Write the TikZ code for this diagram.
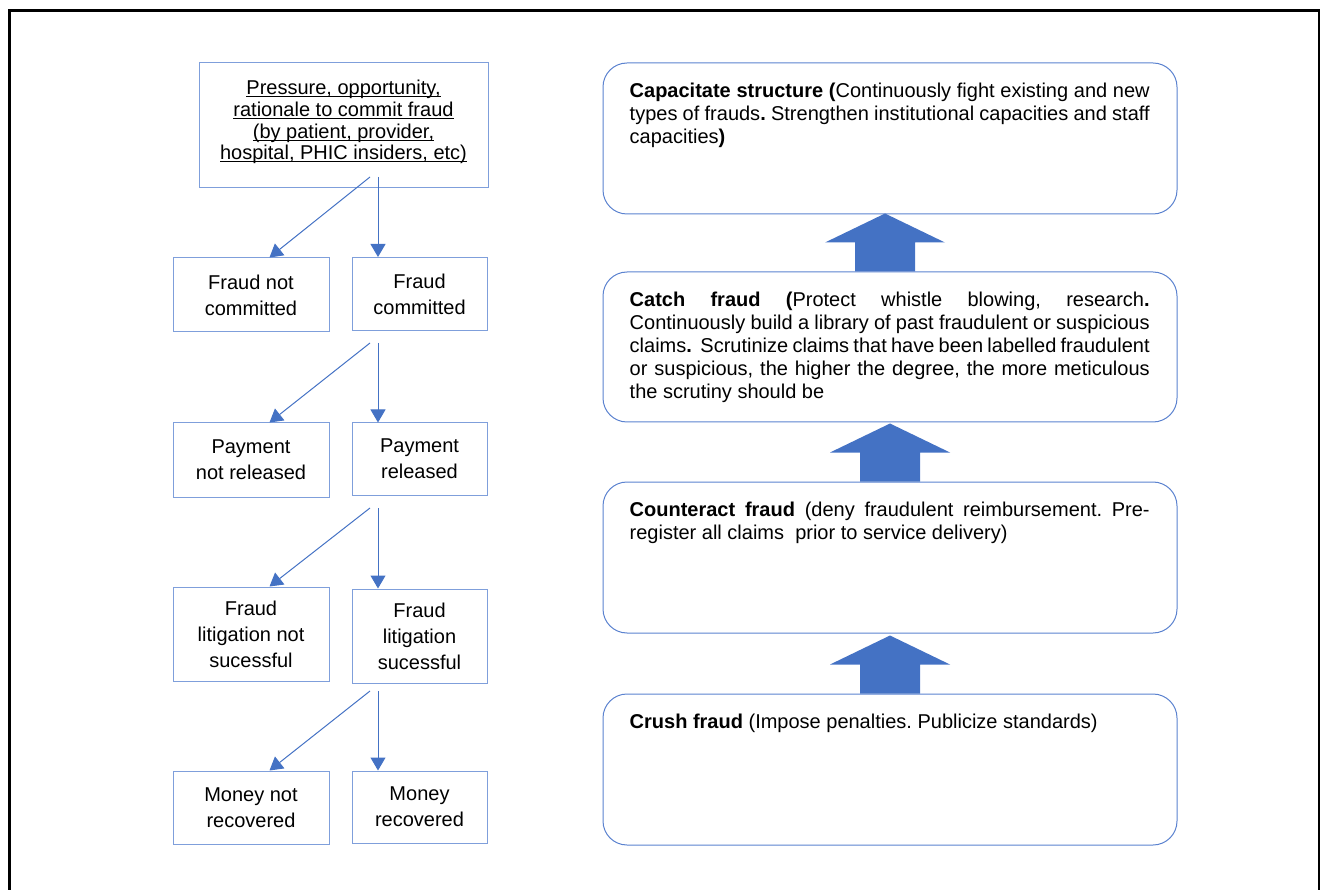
\documentclass[tikz,border=0pt]{standalone}
\usepackage{fontspec}
\setmainfont{Liberation Sans}
\usetikzlibrary{arrows.meta,calc}
\definecolor{boxblue}{HTML}{7F9FDB}
\definecolor{rblue}{HTML}{5B82CF}
\definecolor{arrowblue}{HTML}{4472C4}
\newcommand{\myul}[1]{\setbox0\hbox{#1}\rlap{\rule[-2.6pt]{\wd0}{1pt}}\box0}
\frenchspacing
\begin{document}
\begin{tikzpicture}[x=1pt,y=-1pt,
  lbox/.style={draw=boxblue, line width=1pt, inner sep=0pt, align=center,
    font=\fontsize{20}{26}\selectfont},
  rbox/.style={draw=rblue, line width=1pt, rounded corners=24pt, inner sep=0pt,
    minimum width=574pt},
  rtext/.style={anchor=north west, inner sep=0pt, text width=520pt, align=justify,
    font=\fontsize{20}{23}\selectfont\frenchspacing},
  arr/.style={draw=arrowblue, line width=1pt, -{Triangle[length=13pt,width=15pt]}},
  bigarrow/.style={fill=arrowblue}]
\useasboundingbox (0,0) rectangle (1320,890);
\draw[line width=3pt] (9,895) -- (9,10.5) -- (1319,10.5) -- (1319,895);

% left column
\node[lbox, minimum width=289pt, minimum height=125pt] (top) at (343.5,125.5) {};
\node[inner sep=0pt, align=center, font=\fontsize{20}{21.8}\selectfont] (toptext) at (343.5,122)
  {\myul{Pressure, opportunity,}\\\myul{rationale to commit fraud}\\\myul{(by patient, provider,}\\\myul{hospital, PHIC insiders, etc)}};
\node[lbox, minimum width=156pt, minimum height=74pt] (fnc) at (251,295) {Fraud not\\committed};
\node[lbox, minimum width=135pt, minimum height=73pt] (fc) at (419.5,294) {Fraud\\committed};
\node[lbox, minimum width=156pt, minimum height=74pt] (pnr) at (251,460) {Payment\\not released};
\node[lbox, minimum width=135pt, minimum height=72pt] (pr) at (419.5,459) {Payment\\released};
\node[lbox, minimum width=156pt, minimum height=94pt] (flns) at (251,634) {Fraud\\litigation not\\sucessful};
\node[lbox, minimum width=135pt, minimum height=94pt] (fls) at (419.5,636) {Fraud\\litigation\\sucessful};
\node[lbox, minimum width=156pt, minimum height=73pt] (mnr) at (251,807.5) {Money not\\recovered};
\node[lbox, minimum width=135pt, minimum height=72pt] (mr) at (419.5,807) {Money\\recovered};

\coordinate (s0d) at (370,177); \coordinate (s0v) at (378,177);
\coordinate (s1d) at (370,343); \coordinate (s1v) at (378,343);
\coordinate (s2d) at (370,508); \coordinate (s2v) at (378,508);
\coordinate (s3d) at (370,691); \coordinate (s3v) at (378,691);

\draw[arr] (s0d) -- ($(fnc.north west)+(97,0)$);
\draw[arr] (s0v) -- (s0v |- fc.north);
\draw[arr] (s1d) -- ($(pnr.north west)+(97,0)$);
\draw[arr] (s1v) -- (s1v |- pr.north);
\draw[arr] (s2d) -- ($(flns.north west)+(97,0)$);
\draw[arr] (s2v) -- (s2v |- fls.north);
\draw[arr] (s3d) -- ($(mnr.north west)+(97,0)$);
\draw[arr] (s3v) -- (s3v |- mr.north);

% right column
\node[rbox, minimum height=151pt] (cap) at (890,138.5) {};
\node[rbox, minimum height=150pt] (catch) at (890,347) {};
\node[rbox, minimum height=151pt] (counter) at (890,557.5) {};
\node[rbox, minimum height=151pt] (crush) at (890,769.5) {};

\node[rtext] (captext) at ($(cap.north west)+(27,20)$)
  {\textbf{Capacitate structure (}Continuously fight existing and new\linebreak types of frauds\textbf{.} Strengthen institutional capacities and staff\linebreak capacities\textbf{)}};
\node[rtext] (catchtext) at ($(catch.north west)+(27,20)$)
  {\textbf{Catch fraud (}Protect whistle blowing, research\textbf{.}\linebreak Continuously build a library of past fraudulent or suspicious\linebreak claims\textbf{.}\ \ Scrutinize claims that have been labelled fraudulent\linebreak or suspicious, the higher the degree, the more meticulous\linebreak the scrutiny should be};
\node[rtext] (countertext) at ($(counter.north west)+(27,20)$)
  {\textbf{Counteract fraud} (deny fraudulent reimbursement. Pre-\linebreak register all claims\ \ prior to service delivery)};
\node[rtext] (crushtext) at ($(crush.north west)+(27,20)$)
  {\textbf{Crush fraud} (Impose penalties. Publicize standards)};

\fill[bigarrow] ($(catch.north)+(-35,0)$) -- ++(0,-29) -- ++(-30,0) -- ++(60,-29) -- ++(60,29) -- ++(-30,0) -- ++(0,29) -- cycle;
\fill[bigarrow] ($(counter.north)+(-30,0)$) -- ++(0,-29) -- ++(-30,0) -- ++(60,-29) -- ++(60,29) -- ++(-30,0) -- ++(0,29) -- cycle;
\fill[bigarrow] ($(crush.north)+(-30,0)$) -- ++(0,-29) -- ++(-30,0) -- ++(60,-29) -- ++(60,29) -- ++(-30,0) -- ++(0,29) -- cycle;
\end{tikzpicture}
\end{document}
